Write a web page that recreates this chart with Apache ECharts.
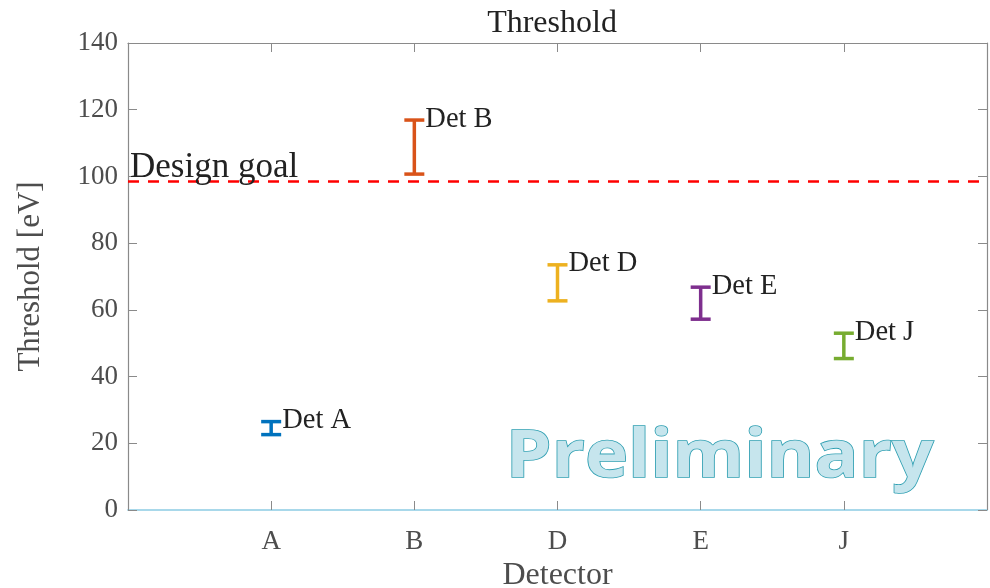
<!DOCTYPE html>
<html>
<head>
<meta charset="utf-8">
<script src="https://cdn.jsdelivr.net/npm/echarts@6/dist/echarts.min.js"></script>
<style>
  html, body { margin: 0; padding: 0; background: #fff; }
  #chart { width: 990px; height: 588px; }
</style>
</head>
<body>
<div id="chart"></div>
<script>
// Detector threshold ranges (eV)
const detectors = ['A', 'B', 'D', 'E', 'J'];
const thresholdLow  = [22.6, 100.7, 62.7, 57.2, 45.4];
const thresholdHigh = [26.5, 116.9, 73.5, 66.8, 53.0];
const detectorColors = ['#0072BD', '#D95319', '#EDB120', '#7E2F8E', '#77AC30'];
const designGoal = 98.6;
const yTicks = { min: 0, max: 140, step: 20 };

const serif = '"Liberation Serif", "Times New Roman", serif';
const axisGrey = '#8a8a8a';
const labelGrey = '#4d4d4d';

const barData = detectors.map((d, i) => [i + 1, thresholdLow[i], thresholdHigh[i], 'Det ' + d]);

// shared settings for the framing (mirror) axes
const frameLine = { show: true, onZero: false, lineStyle: { color: axisGrey, width: 1.2 } };
const frameTick = { show: true, inside: true, length: 9, lineStyle: { color: axisGrey } };

const chart = echarts.init(document.getElementById('chart'), null, { renderer: 'canvas' });

chart.setOption({
  animation: false,
  backgroundColor: '#fff',
  title: {
    text: 'Threshold',
    left: 547,
    textAlign: 'center',
    top: 3,
    textStyle: { fontFamily: serif, fontSize: 32, fontWeight: 'normal', color: '#222' }
  },
  grid: { left: 128, right: 3, top: 43, bottom: 78, containLabel: false, outerBoundsMode: 'none' },
  xAxis: [{
    type: 'value',
    min: 0,
    max: detectors.length + 1,
    interval: 1,
    name: 'Detector',
    nameLocation: 'middle',
    nameGap: 48,
    nameTextStyle: { fontFamily: serif, fontSize: 32, color: labelGrey },
    axisLine: { show: true, onZero: false, lineStyle: { color: '#a8d8ea', width: 2 } },
    axisTick: frameTick,
    axisLabel: {
      margin: 18,
      fontFamily: serif, fontSize: 27, color: labelGrey,
      formatter: v => detectors[v - 1] || ''
    },
    splitLine: { show: false }
  }, {
    type: 'value',
    position: 'top',
    min: 0,
    max: detectors.length + 1,
    interval: 1,
    axisLine: frameLine,
    axisTick: frameTick,
    axisLabel: { show: false },
    splitLine: { show: false }
  }],
  yAxis: [{
    type: 'value',
    min: yTicks.min,
    max: yTicks.max,
    interval: yTicks.step,
    name: 'Threshold [eV]',
    nameLocation: 'middle',
    nameGap: 82,
    nameTextStyle: { fontFamily: serif, fontSize: 31, color: labelGrey },
    axisLine: frameLine,
    axisTick: frameTick,
    axisLabel: { margin: 10, fontFamily: serif, fontSize: 27, color: labelGrey },
    splitLine: { show: false }
  }, {
    type: 'value',
    position: 'right',
    min: yTicks.min,
    max: yTicks.max,
    interval: yTicks.step,
    axisLine: frameLine,
    axisTick: frameTick,
    axisLabel: { show: false },
    splitLine: { show: false }
  }],
  graphic: [{
    type: 'text',
    left: 505,
    top: 424,
    scaleX: 1.09,
    silent: true,
    z: 1,
    style: {
      text: 'Preliminary',
      fontFamily: '"Open Sans", sans-serif',
      fontWeight: 'bold',
      fontSize: 67,
      fill: '#c6e5ed',
      stroke: '#2e9fb2',
      lineWidth: 1.6
    }
  }],
  series: [{
    type: 'custom',
    xAxisIndex: 0,
    yAxisIndex: 0,
    z: 5,
    data: barData,
    renderItem: function (params, api) {
      const x = api.value(0);
      const lo = api.coord([x, api.value(1)]);
      const hi = api.coord([x, api.value(2)]);
      const color = detectorColors[params.dataIndex];
      const half = 10;
      const style = { stroke: color, lineWidth: 3.5 };
      return {
        type: 'group',
        children: [
          { type: 'line', shape: { x1: lo[0], y1: lo[1], x2: hi[0], y2: hi[1] }, style: style },
          { type: 'line', shape: { x1: lo[0] - half, y1: lo[1], x2: lo[0] + half, y2: lo[1] }, style: style },
          { type: 'line', shape: { x1: hi[0] - half, y1: hi[1], x2: hi[0] + half, y2: hi[1] }, style: style },
          {
            type: 'text',
            x: hi[0] + 11,
            y: hi[1] - 1,
            style: {
              text: api.value(3),
              fontFamily: serif,
              fontSize: 28.5,
              fill: '#222',
              verticalAlign: 'middle',
              align: 'left'
            }
          }
        ]
      };
    },
    markLine: {
      silent: true,
      symbol: 'none',
      lineStyle: { color: '#ff0000', type: [11, 9], width: 2.6 },
      label: {
        show: true,
        formatter: 'Design goal',
        position: 'insideStartTop',
        distance: [2, -4],
        fontFamily: serif,
        fontSize: 35,
        color: '#222'
      },
      data: [{ yAxis: designGoal }]
    }
  }]
});
</script>
</body>
</html>
